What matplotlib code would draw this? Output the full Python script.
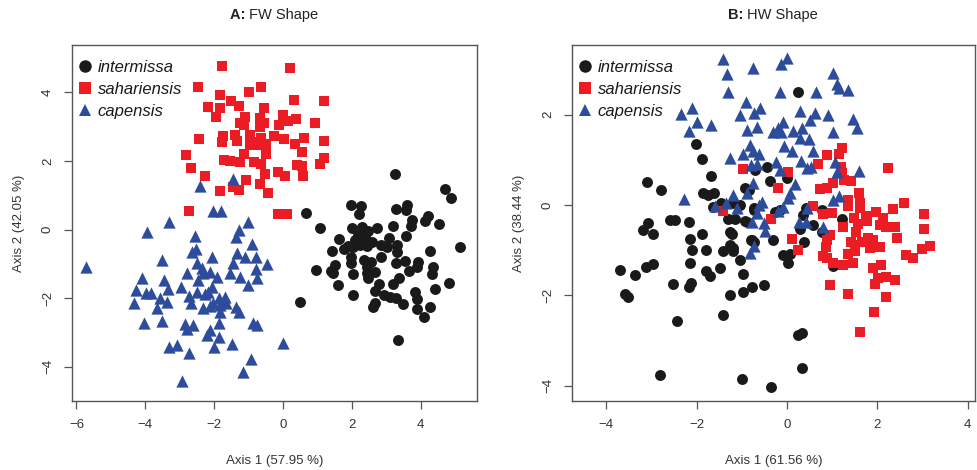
import matplotlib
matplotlib.use("Agg")
import matplotlib.pyplot as plt
from matplotlib.lines import Line2D

# ---------------- Panel A: FW Shape ----------------
a_int = [(3.27,1.62),(4.71,1.18),(4.87,0.91),(0.67,0.47),(1.99,0.71),(2.26,0.68),(2.22,0.45),(3.29,0.59),
         (3.61,0.71),(3.59,0.57),(4.22,0.39),(4.13,0.26),(3.74,0.28),(3.71,0.10),(4.54,0.15),(1.08,0.03),
         (2.02,0.03),(2.29,0.08),(2.48,-0.03),(2.74,0.03),(3.19,0.10),(3.58,-0.19),(2.19,-0.16),(2.38,-0.21),
         (2.58,-0.35),(2.29,-0.35),(2.09,-0.31),(1.64,-0.29),(3.09,-0.26),(1.90,-0.48),(1.77,-0.58),(2.04,-0.50),
         (2.24,-0.45),(2.45,-0.48),(2.84,-0.45),(3.03,-0.50),(3.32,-0.45),(3.32,-0.65),(1.44,-0.62),(4.27,-0.62),
         (5.16,-0.52),(1.97,-0.81),(1.97,-0.97),(2.36,-0.89),(2.55,-0.94),(2.45,-1.10),(2.84,-0.81),(3.29,-0.97),
         (3.55,-0.91),(3.93,-0.94),(3.89,-1.08),(4.35,-1.08),(4.32,-1.30),(0.96,-1.18),(1.51,-1.04),(1.39,-1.20),
         (1.46,-1.28),(2.04,-1.30),(2.45,-1.28),(2.48,-1.42),(2.67,-1.23),(3.67,-1.20),(3.38,-1.40),(3.21,-1.59),
         (2.80,-1.59),(2.67,-1.78),(1.61,-1.62),(4.42,-1.72),(4.84,-1.57),(2.03,-1.91),(2.94,-1.91),(3.11,-1.98),
         (3.30,-2.01),(3.50,-2.17),(3.84,-1.81),(3.89,-2.04),(2.67,-2.13),(2.63,-2.27),(3.91,-2.33),(4.27,-2.27),
         (4.10,-2.56),(0.51,-2.10),(3.35,-3.22)]
a_sah = [(-1.78,4.78),(0.21,4.70),(-2.46,4.15),(-0.64,4.15),(-0.98,4.00),(-1.82,3.92),(0.31,3.78),(1.20,3.75),
         (-1.50,3.75),(-2.17,3.58),(-1.82,3.55),(-1.29,3.61),(-0.54,3.55),(-1.94,3.29),(-1.10,3.29),(-0.68,3.26),
         (0.00,3.34),(0.39,3.21),(0.14,3.15),(0.94,3.10),(-1.24,3.10),(-0.56,3.10),(-0.10,3.05),(-0.68,3.00),
         (-1.14,3.05),(-2.45,2.64),(-1.75,2.73),(-1.78,2.55),(-1.38,2.76),(-0.95,2.76),(-1.34,2.58),(-0.87,2.55),
         (-0.64,2.68),(-0.27,2.74),(0.02,2.64),(0.36,2.49),(0.60,2.66),(1.19,2.58),(-0.95,2.45),(-0.66,2.45),
         (-0.48,2.49),(0.55,2.27),(-2.81,2.18),(-0.48,2.20),(-1.12,2.20),(-1.71,2.03),(-1.53,2.00),(-1.24,1.96),
         (-0.85,1.98),(-0.63,1.90),(0.41,1.88),(0.55,1.84),(1.07,1.90),(1.20,2.08),(-2.66,1.79),(-2.27,1.57),
         (-0.51,1.61),(-0.15,1.67),(0.07,1.55),(0.58,1.57),(-1.07,1.45),(-0.66,1.32),(-1.45,1.25),(-1.29,1.16),
         (-0.42,1.06),(-1.84,1.13),(-2.72,0.55),(-0.13,0.46),(0.12,0.46)]
a_cap = [(-5.71,-1.08),(-3.31,0.23),(-3.94,-0.06),(-2.53,-0.58),(-3.50,-0.89),(-2.78,-1.26),(-4.10,-1.42),
         (-3.46,-1.47),(-4.28,-1.76),(-3.98,-1.84),(-3.84,-1.86),(-3.35,-1.74),(-2.96,-1.67),(-3.57,-2.01),
         (-3.38,-2.10),(-2.72,-1.94),(-4.33,-2.13),(-3.65,-2.30),(-4.04,-2.74),(-3.52,-2.66),(-2.85,-2.75),
         (-2.80,-2.91),(-3.30,-3.42),(-3.09,-3.37),(-2.72,-3.59),(-2.94,-4.41),
         (-2.41,1.28),(-1.46,1.48),(-2.04,0.55),(-1.81,0.55),(-1.01,0.23),(-1.27,0.00),(-1.35,-0.21),
         (-2.56,-0.19),(-0.91,-0.42),(-2.63,-0.65),(-2.07,-0.79),(-1.33,-0.68),(-1.10,-0.79),(-0.79,-0.81),
         (-0.46,-1.01),(-1.46,-0.97),(-2.51,-0.99),(-2.36,-1.13),(-2.32,-1.28),(-2.12,-1.23),(-1.91,-1.37),
         (-1.54,-1.26),(-1.25,-1.39),(-0.79,-1.16),(-0.75,-1.42),(-2.46,-1.47),(-1.01,-1.62),(-2.05,-1.67),
         (-2.51,-1.81),(-2.27,-1.88),(-2.17,-1.81),(-1.85,-2.01),(-1.69,-1.98),(-2.03,-2.15),(-1.83,-2.20),
         (-1.64,-2.15),(-2.66,-2.15),(-2.32,-2.30),(-2.12,-2.23),(-1.35,-2.25),(-1.27,-2.40),(-1.83,-2.40),
         (-0.86,-2.74),(-0.75,-2.78),(-2.61,-2.78),(-1.85,-2.74),(-2.12,-2.93),(-2.20,-3.08),(-1.85,-3.12),
         (-2.01,-3.42),(-1.49,-3.34),(0.01,-3.32),(-0.94,-3.78),(-1.17,-4.14)]

# ---------------- Panel B: HW Shape ----------------
b_int = [(-2.01,1.35),(-1.89,1.01),(-1.68,0.65),(-3.10,0.50),(-2.80,0.32),(-1.85,0.27),(-1.74,0.22),(-1.62,0.26),
         (-1.63,-0.04),(-2.59,-0.33),(-2.48,-0.33),(-2.18,-0.37),(-3.07,-0.39),(-3.18,-0.55),(-2.97,-0.64),
         (-1.30,-0.32),(-1.15,-0.32),(-0.89,-0.37),(-1.26,-0.59),(-1.22,-0.64),(-1.89,-0.64),(-2.15,-0.76),
         (-0.78,-0.77),(-1.26,-0.89),(-1.19,-0.96),(-1.20,-1.03),(-2.11,-0.99),(-1.79,-0.99),(-1.42,-1.03),
         (-1.04,-1.22),(-2.15,-1.29),(-3.69,-1.44),(-3.36,-1.55),(-3.12,-1.37),(-2.96,-1.31),(-1.79,-1.47),
         (-1.70,-1.58),(-1.48,-1.40),(-0.98,-1.53),(-2.53,-1.75),(-2.18,-1.81),(-0.78,-1.81),(-0.85,0.33),
         (-0.73,-0.11),(-3.58,-1.97),(-3.51,-2.03),(-2.13,-1.72),(-1.26,-1.99),(-0.98,-1.92),(-0.51,-1.77),
         (-2.44,-2.58),(-1.41,-2.43),(0.25,-2.88),(0.32,-2.84),(-2.82,-3.76),(-1.00,-3.86),(-0.36,-4.03),
         (0.32,-3.61),(0.25,2.49),(-0.93,0.37),(-0.38,0.52),(-0.71,0.77),(-0.45,0.85),(-1.47,0.04),(-1.19,0.04),
         (-1.05,0.00),(-0.74,-0.07),(-0.27,-0.15),(-0.15,-0.11),(-0.93,-0.35),(0.29,-0.54),(0.38,-0.81),
         (0.58,-0.44),(1.21,-0.32),(-0.80,-0.77),(-0.74,-0.81),(-0.32,-0.77),(-0.10,-1.11),(0.01,-1.28),
         (0.07,-1.08),(1.02,-1.35),(-0.01,0.60),(0.77,-0.11),(0.36,-0.22),(0.42,-0.07),(0.77,-0.61)]
b_sah = [(-0.97,0.79),(-1.42,-0.13),(-0.21,0.37),(-0.36,-0.32),(0.03,0.72),
         (1.21,1.25),(1.16,1.13),(0.88,1.11),(0.69,0.91),(2.24,0.81),(1.19,0.85),(1.21,0.71),(1.02,0.49),
         (1.25,0.55),(1.41,0.54),(0.73,0.35),(0.88,0.37),(1.60,0.27),(1.36,0.10),(1.36,-0.02),(1.61,0.05),
         (1.61,-0.06),(2.59,0.04),(0.58,-0.02),(1.97,-0.15),(2.34,-0.10),(3.03,-0.19),(0.79,-0.20),(0.99,-0.17),
         (1.48,-0.30),(1.75,-0.24),(1.78,-0.35),(2.13,-0.30),(2.06,-0.44),(2.19,-0.48),(2.39,-0.48),(1.23,-0.49),
         (3.03,-0.54),(1.58,-0.42),(1.53,-0.59),(0.94,-0.66),(2.43,-0.74),(0.10,-0.76),(1.80,-0.74),(1.91,-0.78),
         (1.41,-0.81),(1.50,-0.89),(1.65,-0.83),(0.89,-0.77),(0.86,-0.94),(1.84,-0.96),(2.06,-0.94),(0.25,-0.99),
         (0.80,-1.14),(0.89,-1.18),(1.50,-1.03),(1.36,-1.08),(3.16,-0.91),(2.98,-0.98),(2.63,-1.11),(2.78,-1.18),
         (1.02,-1.28),(1.23,-1.33),(1.45,-1.29),(1.91,-1.40),(2.09,-1.33),(2.02,-1.62),(2.19,-1.60),(1.95,-1.75),
         (2.39,-1.66),(0.95,-1.77),(1.36,-1.97),(2.19,-2.04),(1.93,-2.37),(1.61,-2.82)]
b_cap = [(-2.28,0.13),(-0.67,0.91),(-0.76,0.48),(-1.20,0.22),(-0.89,0.26),(-1.59,-0.02),(-1.35,0.05),
         (-1.11,-0.07),(-0.78,-0.37),(-0.73,-0.91),(-0.82,-1.07),(-0.63,0.00),
         (-1.41,3.23),(-0.14,3.13),(-0.01,3.25),(-1.33,2.89),(-0.76,3.02),(1.01,2.91),(1.10,2.67),(1.16,2.58),
         (1.34,2.54),(-1.30,2.49),(-0.15,2.49),(0.64,2.51),(-0.91,2.27),(-0.60,2.15),(-0.73,2.03),(-1.05,1.99),
         (-2.35,2.01),(-2.11,2.14),(0.29,2.07),(0.62,2.03),(0.51,1.88),(0.91,1.98),(-2.00,1.83),(-1.69,1.76),
         (-2.18,1.64),(-0.88,1.66),(-0.66,1.73),(-0.21,1.71),(-0.10,1.83),(-0.14,1.61),(-0.32,1.61),(0.14,1.64),
         (0.32,1.70),(0.29,1.49),(0.49,1.46),(1.02,1.61),(1.47,1.90),(1.54,1.71),(-0.83,1.33),(-0.75,1.19),
         (-0.98,1.12),(-0.63,1.12),(-0.07,1.31),(0.10,1.19),(0.58,1.19),(-1.27,1.03),(-0.24,0.94),(0.30,0.97),
         (1.06,0.94),
         (-0.80,0.88),(-0.16,0.77),(0.44,0.81),(0.52,0.85),(1.10,0.72),(0.18,0.46),(0.07,0.26),(0.01,0.15),
         (-0.56,0.07),(-0.66,-0.18),(-0.10,-0.04),(-0.19,-0.13),(1.01,0.11),(1.14,0.20),(0.45,-0.07),
         (-0.52,-0.41),(-0.49,-0.57),(0.27,-0.37),(0.42,-0.37),(0.79,-0.48),(1.60,0.76)]

species = ["intermissa", "sahariensis", "capensis"]
title_tags = ["A:", "B:"]
title_names = ["FW Shape", "HW Shape"]
xlabels = ["Axis 1 (57.95 %)", "Axis 1 (61.56 %)"]
ylabels = ["Axis 2 (42.05 %)", "Axis 2 (38.44 %)"]
a_xticks = [-6, -4, -2, 0, 2, 4]
a_yticks = [-4, -2, 0, 2, 4]
b_xticks = [-4, -2, 0, 2, 4]
b_yticks = [-4, -2, 0, 2]

colors = ["#1a1a1a", "#ec1c24", "#2d4c9c"]
markers = ["o", "s", "^"]
sizes = [62, 50, 78]

plt.rcParams['font.family'] = ['Liberation Sans', 'DejaVu Sans']

W, H = 978, 470
fig = plt.figure(figsize=(W/100, H/100), dpi=100)

def px_axes(l, r, t, b):
    return fig.add_axes([l/W, 1-b/H, (r-l)/W, (b-t)/H])

axA = px_axes(72, 477, 45, 401)
axB = px_axes(572, 975, 45, 401)

panels = [
    (axA, [a_int, a_sah, a_cap], (-6.13, 5.64), (-5.0, 5.38), a_xticks, a_yticks, 274),
    (axB, [b_int, b_sah, b_cap], (-4.76, 4.16), (-4.34, 3.54), b_xticks, b_yticks, 773),
]

renderer = fig.canvas.get_renderer()

for i, (ax, groups, xl, yl, xt, yt, tx) in enumerate(panels):
    for g, c, m, s in zip(groups, colors, markers, sizes):
        xs = [p[0] for p in g]
        ys = [p[1] for p in g]
        ax.scatter(xs, ys, c=c, marker=m, s=s, linewidths=0, zorder=3)
    ax.set_xlim(*xl)
    ax.set_ylim(*yl)
    ax.set_xticks(xt)
    ax.set_yticks(yt)
    ax.set_xticklabels([str(v).replace('-', '\u2212') for v in xt], fontsize=9.5, color='#333333')
    ax.set_yticklabels([str(v).replace('-', '\u2212') for v in yt], fontsize=9.5, color='#333333',
                       rotation=90, va='center')
    ax.tick_params(direction='out', length=6, width=0.9, color='#555555', pad=7)
    for sp in ax.spines.values():
        sp.set_color('#555555')
        sp.set_linewidth(1.0)
    ax.set_xlabel(xlabels[i], fontsize=9.5, color='#333333', labelpad=17)
    ax.set_ylabel(ylabels[i], fontsize=9.5, color='#333333', labelpad=12)
    handles = [Line2D([0], [0], marker=m, color='none', markerfacecolor=c, markeredgewidth=0,
                      markersize=9) for c, m in zip(colors, markers)]
    leg = ax.legend(handles, species, loc='upper left', bbox_to_anchor=(0.0, 0.975), frameon=False,
                    prop={'style': 'italic', 'size': 12}, handletextpad=0.3,
                    labelspacing=0.42, borderaxespad=0.0, handlelength=0.9,
                    borderpad=0.35)
    for t in leg.get_texts():
        t.set_color('#1a1a1a')

    # Title: bold tag + regular name, centred as a whole
    t1 = fig.text(0, 1-15/H, title_tags[i] + " ", ha='left', va='center', fontsize=10.5,
                  fontweight='bold', color='#222222')
    t2 = fig.text(0, 1-15/H, title_names[i], ha='left', va='center', fontsize=10.5, color='#222222')
    w1 = t1.get_window_extent(renderer).width
    w2 = t2.get_window_extent(renderer).width
    x0 = tx - (w1 + w2) / 2
    t1.set_x(x0 / W)
    t2.set_x((x0 + w1) / W)

fig.savefig("out.png", dpi=100)
